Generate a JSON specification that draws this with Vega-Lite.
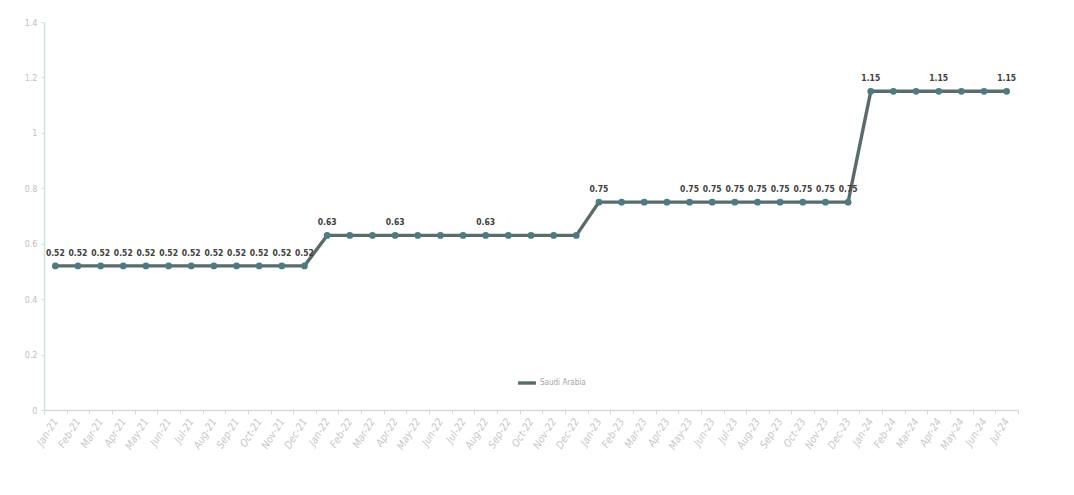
{
  "$schema": "https://vega.github.io/schema/vega-lite/v6.json",
  "autosize": "none",
  "width": 974,
  "height": 388,
  "padding": {"left": 44, "top": 22, "right": 56, "bottom": 85},
  "background": "white",
  "config": {
    "view": {"stroke": null},
    "font": "DejaVu Sans Condensed, Liberation Sans Narrow, sans-serif"
  },
  "data": {
    "values": [
      {"month": "Jan-21", "country": "Saudi Arabia", "value": 0.52, "label": "0.52"},
      {"month": "Feb-21", "country": "Saudi Arabia", "value": 0.52, "label": "0.52"},
      {"month": "Mar-21", "country": "Saudi Arabia", "value": 0.52, "label": "0.52"},
      {"month": "Apr-21", "country": "Saudi Arabia", "value": 0.52, "label": "0.52"},
      {"month": "May-21", "country": "Saudi Arabia", "value": 0.52, "label": "0.52"},
      {"month": "Jun-21", "country": "Saudi Arabia", "value": 0.52, "label": "0.52"},
      {"month": "Jul-21", "country": "Saudi Arabia", "value": 0.52, "label": "0.52"},
      {"month": "Aug-21", "country": "Saudi Arabia", "value": 0.52, "label": "0.52"},
      {"month": "Sep-21", "country": "Saudi Arabia", "value": 0.52, "label": "0.52"},
      {"month": "Oct-21", "country": "Saudi Arabia", "value": 0.52, "label": "0.52"},
      {"month": "Nov-21", "country": "Saudi Arabia", "value": 0.52, "label": "0.52"},
      {"month": "Dec-21", "country": "Saudi Arabia", "value": 0.52, "label": "0.52"},
      {"month": "Jan-22", "country": "Saudi Arabia", "value": 0.63, "label": "0.63"},
      {"month": "Feb-22", "country": "Saudi Arabia", "value": 0.63, "label": ""},
      {"month": "Mar-22", "country": "Saudi Arabia", "value": 0.63, "label": ""},
      {"month": "Apr-22", "country": "Saudi Arabia", "value": 0.63, "label": "0.63"},
      {"month": "May-22", "country": "Saudi Arabia", "value": 0.63, "label": ""},
      {"month": "Jun-22", "country": "Saudi Arabia", "value": 0.63, "label": ""},
      {"month": "Jul-22", "country": "Saudi Arabia", "value": 0.63, "label": ""},
      {"month": "Aug-22", "country": "Saudi Arabia", "value": 0.63, "label": "0.63"},
      {"month": "Sep-22", "country": "Saudi Arabia", "value": 0.63, "label": ""},
      {"month": "Oct-22", "country": "Saudi Arabia", "value": 0.63, "label": ""},
      {"month": "Nov-22", "country": "Saudi Arabia", "value": 0.63, "label": ""},
      {"month": "Dec-22", "country": "Saudi Arabia", "value": 0.63, "label": ""},
      {"month": "Jan-23", "country": "Saudi Arabia", "value": 0.75, "label": "0.75"},
      {"month": "Feb-23", "country": "Saudi Arabia", "value": 0.75, "label": ""},
      {"month": "Mar-23", "country": "Saudi Arabia", "value": 0.75, "label": ""},
      {"month": "Apr-23", "country": "Saudi Arabia", "value": 0.75, "label": ""},
      {"month": "May-23", "country": "Saudi Arabia", "value": 0.75, "label": "0.75"},
      {"month": "Jun-23", "country": "Saudi Arabia", "value": 0.75, "label": "0.75"},
      {"month": "Jul-23", "country": "Saudi Arabia", "value": 0.75, "label": "0.75"},
      {"month": "Aug-23", "country": "Saudi Arabia", "value": 0.75, "label": "0.75"},
      {"month": "Sep-23", "country": "Saudi Arabia", "value": 0.75, "label": "0.75"},
      {"month": "Oct-23", "country": "Saudi Arabia", "value": 0.75, "label": "0.75"},
      {"month": "Nov-23", "country": "Saudi Arabia", "value": 0.75, "label": "0.75"},
      {"month": "Dec-23", "country": "Saudi Arabia", "value": 0.75, "label": "0.75"},
      {"month": "Jan-24", "country": "Saudi Arabia", "value": 1.15, "label": "1.15"},
      {"month": "Feb-24", "country": "Saudi Arabia", "value": 1.15, "label": ""},
      {"month": "Mar-24", "country": "Saudi Arabia", "value": 1.15, "label": ""},
      {"month": "Apr-24", "country": "Saudi Arabia", "value": 1.15, "label": "1.15"},
      {"month": "May-24", "country": "Saudi Arabia", "value": 1.15, "label": ""},
      {"month": "Jun-24", "country": "Saudi Arabia", "value": 1.15, "label": ""},
      {"month": "Jul-24", "country": "Saudi Arabia", "value": 1.15, "label": "1.15"}
    ]
  },
  "encoding": {
    "x": {
      "field": "month",
      "type": "ordinal",
      "sort": null,
      "scale": {"type": "band", "paddingInner": 0, "paddingOuter": 0},
      "axis": {
        "title": null,
        "labelAngle": -58,
        "labelColor": "#c8c8c8",
        "labelFontSize": 10.5,
        "labelFontStyle": "italic",
        "labelAlign": "right",
        "labelBaseline": "middle",
        "labelPadding": 5,
        "tickBand": "extent",
        "tickColor": "#d9d9d9",
        "tickSize": 4,
        "domainColor": "#d9d9d9",
        "domainWidth": 1.5
      }
    },
    "y": {
      "field": "value",
      "type": "quantitative",
      "scale": {"domain": [0, 1.4], "nice": false},
      "axis": {
        "title": null,
        "values": [0, 0.2, 0.4, 0.6, 0.8, 1, 1.2, 1.4],
        "format": ".1~f",
        "grid": false,
        "labelColor": "#c0c0c0",
        "labelFontSize": 9,
        "labelPadding": 4,
        "tickColor": "#c8e6dc",
        "tickSize": 3,
        "domainColor": "#c8e6dc",
        "domainWidth": 1.5
      }
    }
  },
  "layer": [
    {
      "mark": {"type": "line", "strokeWidth": 3.4},
      "encoding": {
        "color": {
          "field": "country",
          "type": "nominal",
          "scale": {"range": ["#5b6b6b"]},
          "legend": {
            "title": null,
            "orient": "none",
            "legendX": 472,
            "legendY": 350,
            "symbolType": "stroke",
            "symbolStrokeWidth": 3.4,
            "symbolSize": 320,
            "labelFontSize": 8,
            "labelColor": "#a6a6a6",
            "labelOffset": 2
          }
        }
      }
    },
    {
      "mark": {"type": "point", "filled": true, "size": 45, "color": "#4e7a84", "opacity": 1},
      "encoding": {}
    },
    {
      "mark": {"type": "text", "baseline": "bottom", "dy": -8, "fontSize": 8.5, "fontWeight": "bold", "color": "#404040"},
      "encoding": {"text": {"field": "label"}}
    }
  ]
}
